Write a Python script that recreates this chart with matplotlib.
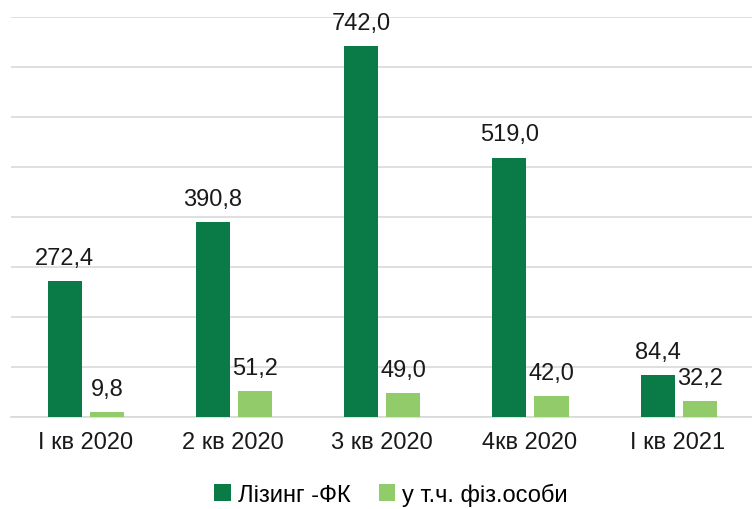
import matplotlib.pyplot as plt
import numpy as np

plt.rcParams['font.family'] = ['Liberation Sans', 'DejaVu Sans']

categories = ["I кв 2020", "2 кв 2020", "3 кв 2020", "4кв 2020", "I кв 2021"]
leasing_fk = [272.4, 390.8, 742.0, 519.0, 84.4]
individuals = [9.8, 51.2, 49.0, 42.0, 32.2]
series_names = ["Лізинг -ФК", "у т.ч. фіз.особи"]

dark = '#0a7a47'
light = '#92cc6a'

fig = plt.figure(figsize=(7.52, 5.10), dpi=100)
ax = fig.add_axes([11 / 752, 92 / 510, 741 / 752, 400 / 510])

x = np.arange(len(categories))
w = 0.23
off = 0.142
b1 = ax.bar(x - off + 0.005, leasing_fk, w, color=dark, label=series_names[0], zorder=3)
b2 = ax.bar(x + off + 0.005, individuals, w, color=light, label=series_names[1], zorder=3)

def fmt(v):
    return ('%.1f' % v).replace('.', ',')

for bars, vals in ((b1, leasing_fk), (b2, individuals)):
    for rect, v in zip(bars, vals):
        ax.text(rect.get_x() + rect.get_width() / 2, v + 24, fmt(v),
                ha='center', va='bottom', fontsize=17, color='#1a1a1a')

ax.set_xlim(-0.5, len(categories) - 0.5)
ax.set_ylim(0, 800)
ax.set_yticks(np.arange(0, 801, 100))
ax.yaxis.grid(True, color='#d9d9d9', linewidth=1.2, zorder=0)
ax.set_yticklabels([])
ax.tick_params(axis='y', length=0)
ax.tick_params(axis='x', length=0, labelsize=17, pad=10, colors='#1a1a1a')
ax.set_xticks(x)
ax.set_xticklabels(categories)
for s in ['top', 'right', 'left']:
    ax.spines[s].set_visible(False)
ax.spines['bottom'].set_color('#d9d9d9')
ax.spines['bottom'].set_linewidth(1.2)

fig.legend(handles=[b1, b2], loc='lower center', bbox_to_anchor=(0.52, -0.035),
           ncol=2, frameon=False, fontsize=17, handlelength=0.7, handleheight=0.7,
           handletextpad=0.3, columnspacing=1.2)

fig.savefig('out.png', dpi=100)
